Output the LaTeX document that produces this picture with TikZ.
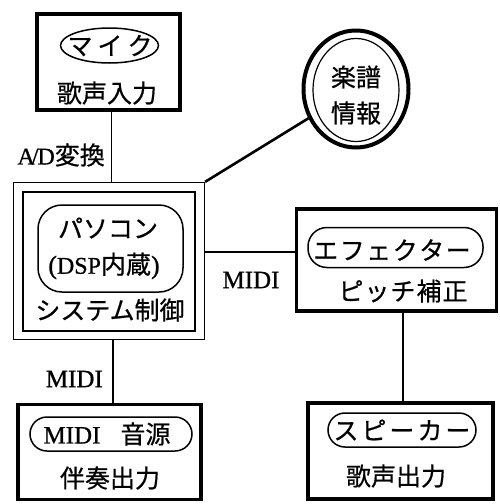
\documentclass[tikz,border=0pt]{standalone}
\usepackage{fontspec}
\setmainfont{Liberation Serif}[FakeBold=0.8]
\newfontfamily\cjk{Noto Sans CJK JP}[FakeBold=0.6]
\usetikzlibrary{shapes.geometric}
\tikzset{
  thickbox/.style={draw, line width=3.4pt, inner sep=0pt, rectangle},
  thinbox/.style={draw, line width=1.3pt, inner sep=0pt, rectangle},
  ovalshape/.style={draw, ellipse, line width=1.5pt, inner sep=0pt},
  pill/.style={draw, rectangle, rounded corners=16pt, line width=1.5pt, inner sep=0pt},
  jp/.style={font=\cjk\fontsize{25}{28}\selectfont, inner sep=0pt},
  lat/.style={font=\fontsize{25}{27}\selectfont, inner sep=0pt},
  conn/.style={line width=1.7pt}
}
\begin{document}
\begin{tikzpicture}[x=1pt,y=-1pt]
\useasboundingbox[fill=white] (0,0) rectangle (499,504);

% Mic box
\node[thickbox, minimum width=143pt, minimum height=96pt] (mic) at (108.5,62) {};
\node[ovalshape, minimum width=98pt, minimum height=35pt] (micoval) at (109.5,45.5) {};
\node[jp] (mictxt) at (110,45.5) {マ\kern5ptイ\kern5ptク};
\node[jp] (mic2) at (107,93) {歌声入力};

% PC box
\node[thinbox, minimum width=191pt, minimum height=157pt] (pcout) at (109,261) {};
\node[thinbox, minimum width=172pt, minimum height=139pt] (pcin) at (109,261.5) {};
\node[pill, rounded corners=24pt, minimum width=145pt, minimum height=87pt] (pcpill) at (110.5,248.5) {};
\node[jp] (pc1) at (108,228) {パソコン};
\node[jp] (pc2) at (104,266) {{\rmfamily\fontsize{26}{28}\selectfont(}{\rmfamily\fontsize{24}{26}\selectfont DSP}内蔵{\rmfamily\fontsize{26}{28}\selectfont)}};
\node[jp] (pc3) at (110,310) {システム制御};

% Score circle
\node[ellipse, draw, line width=4pt, minimum width=105pt, minimum height=117pt, inner sep=0pt] (score) at (356,89) {};
\node[ellipse, draw, line width=1.2pt, minimum width=86pt, minimum height=103pt, inner sep=0pt] (scorein) at (356,90) {};
\node[jp] (sc1) at (356,77) {楽譜};
\node[jp] (sc2) at (356,113) {情報};

% Effector box
\node[thickbox, minimum width=200pt, minimum height=102pt] (eff) at (396.5,260) {};
\node[pill, rounded corners=19pt, minimum width=175pt, minimum height=40pt] (effoval) at (395.5,247.5) {};
\node[jp] (eff1) at (392,250) {エ\kern1.5ptフ\kern1.5ptェ\kern1.5ptク\kern1.5ptタ\kern1.5ptー};
\node[jp] (eff2) at (403,291) {ピ\kern1ptッ\kern1ptチ\kern1pt補\kern1pt正};

% MIDI box
\node[thickbox, minimum width=183pt, minimum height=95pt] (midi) at (109.5,452) {};
\node[pill, rounded corners=17pt, minimum width=162pt, minimum height=34pt] (midioval) at (111,434) {};
\node[jp] (midi1) at (107,434) {{\rmfamily\fontsize{25}{27}\selectfont MIDI}\kern20pt 音源};
\node[jp] (midi2) at (110,478) {伴奏出力};

% Speaker box
\node[thickbox, minimum width=185pt, minimum height=96pt] (spk) at (400.5,451) {};
\node[pill, rounded corners=17pt, minimum width=148pt, minimum height=34pt] (spkoval) at (402,430) {};
\node[jp] (spk1) at (402,430) {ス\kern3ptピ\kern3ptー\kern3ptカ\kern3ptー};
\node[jp] (spk2) at (396,476) {歌声出力};

% Labels
\node[jp, anchor=east] (ad) at (105,155) {{\rmfamily\fontsize{24}{26}\selectfont A\kern-3pt/\kern-1ptD}変換};
\node[lat, anchor=east] (lmidi1) at (103,379) {MIDI};
\node[lat] (lmidi2) at (251,280) {MIDI};

% Connectors
\coordinate (hy) at (0,252);
\coordinate (vx1) at (111.5,0);
\coordinate (vx2) at (113,0);
\coordinate (vx3) at (403,0);
\draw[conn] (mic.south -| vx1) -- (pcout.north -| vx1);
\draw[line width=2.6pt] (pcout.north east) -- (score);
\draw[conn] (pcout.east |- hy) -- (eff.west |- hy);
\draw[conn] (pcout.south -| vx2) -- (midi.north -| vx2);
\draw[conn] (spk.north -| vx3) -- (eff.south -| vx3);
\end{tikzpicture}
\end{document}
